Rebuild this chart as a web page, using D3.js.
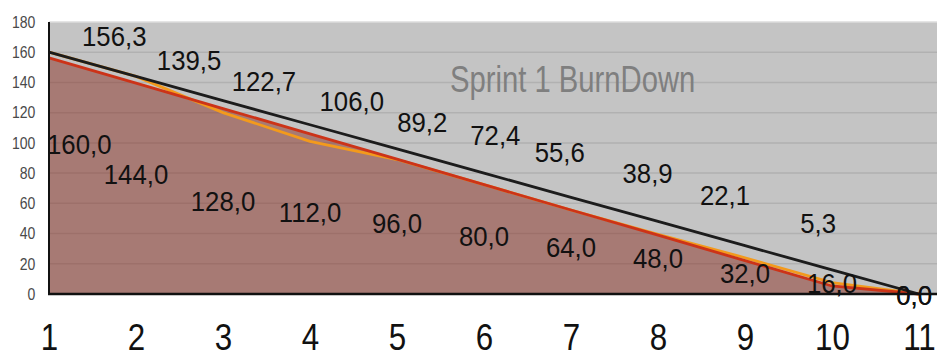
<!DOCTYPE html>
<html>
<head>
<meta charset="utf-8">
<title>Sprint 1 BurnDown</title>
<script src="https://d3js.org/d3.v7.min.js"></script>
<style>
  body { margin: 0; background: #fff; }
  svg { display: block; }
  text { font-family: "Liberation Sans", Arial, sans-serif; }
  .axis .domain { display: none; }
</style>
</head>
<body>
<script>

// ---- data ----
var days = [1, 2, 3, 4, 5, 6, 7, 8, 9, 10, 11];
var ideal = [160, 144, 128, 112, 96, 80, 64, 48, 32, 16, 0];
var remaining = [156.3, 139.5, 122.7, 106.0, 89.2, 72.4, 55.6, 38.9, 22.1, 5.3, 0.0];
var actual = [160, 144, 120, 101, 89, 72.4, 55.6, 39.5, 24, 7.5, 0];
var yTicks = [0, 20, 40, 60, 80, 100, 120, 140, 160, 180];

// where the data labels sit, in chart units (day, hours)
var idealLabelAt = [99, 79, 61, 54, 46.3, 37.7, 30.8, 23.5, 13.6, 6.6, -1.3];
var remainingLabelDay = [1.75, 2.61, 3.47, 4.48, 5.29, 6.13, 6.87, 7.88, 8.77, 9.84, 11];
var remainingLabelAt = [170, 154.2, 140.3, 127, 113.5, 104.6, 93.6, 79.4, 64.9, 46.3, -1.3];

var title = "Sprint 1 BurnDown";

var W = 937, H = 354;
var margin = {top: 22, right: 0, bottom: 60, left: 49};

var svg = d3.select("body").append("svg")
    .attr("width", W)
    .attr("height", H);

var x = d3.scaleLinear()
    .domain([1, 11])
    .range([margin.left, 919]);

var y = d3.scaleLinear()
    .domain([0, 180])
    .range([H - margin.bottom, margin.top]);

var fmt = function(v) { return d3.format(".1f")(v).replace(".", ","); };

// plot background
svg.append("rect")
    .attr("x", margin.left)
    .attr("y", margin.top)
    .attr("width", W - margin.left)
    .attr("height", y(0) - margin.top)
    .attr("fill", "#c4c4c4");

// grid
svg.append("g")
    .selectAll("line")
    .data(yTicks.filter(function(d) { return d > 0 && d < 180; }))
    .enter().append("line")
    .attr("x1", margin.left)
    .attr("x2", W)
    .attr("y1", function(d) { return y(d); })
    .attr("y2", function(d) { return y(d); })
    .attr("stroke", "#b1b1b1")
    .attr("stroke-width", 1.5);

svg.append("line")
    .attr("x1", margin.left).attr("x2", W)
    .attr("y1", y(180)).attr("y2", y(180))
    .attr("stroke", "#dcdcdc")
    .attr("stroke-width", 1.5);

// title
svg.append("text")
    .attr("transform", "translate(450,92) scale(0.79,1)")
    .attr("font-size", 37)
    .attr("fill", "#7f7f7f")
    .text(title);

// area under the remaining line
var area = d3.area()
    .x(function(d, i) { return x(days[i]); })
    .y0(y(0))
    .y1(function(d) { return y(d); });

svg.append("path")
    .datum(remaining)
    .attr("d", area)
    .attr("fill", "rgb(134,34,20)")
    .attr("fill-opacity", 0.45);

var line = d3.line()
    .x(function(d, i) { return x(days[i]); })
    .y(function(d) { return y(d); });

svg.append("path")
    .datum(actual)
    .attr("d", line)
    .attr("fill", "none")
    .attr("stroke", "#f39a1c")
    .attr("stroke-width", 2.8);

svg.append("path")
    .datum(remaining)
    .attr("d", line)
    .attr("fill", "none")
    .attr("stroke", "#cc3318")
    .attr("stroke-width", 2.8);

svg.append("path")
    .datum(ideal)
    .attr("d", line)
    .attr("fill", "none")
    .attr("stroke", "#1c1c1c")
    .attr("stroke-width", 2.8);

// axis lines
svg.append("line")
    .attr("x1", margin.left).attr("x2", margin.left)
    .attr("y1", y(180)).attr("y2", y(0))
    .attr("stroke", "#111").attr("stroke-width", 2);
svg.append("line")
    .attr("x1", margin.left - 1).attr("x2", W)
    .attr("y1", y(0)).attr("y2", y(0))
    .attr("stroke", "#111").attr("stroke-width", 2.5);

// y axis
var yAxis = svg.append("g")
    .attr("class", "axis")
    .attr("transform", "translate(" + margin.left + ",0)")
    .call(d3.axisLeft(y).tickValues(yTicks).tickSize(0).tickPadding(16));
yAxis.selectAll("text")
    .attr("font-family", "'Liberation Sans', Arial, sans-serif")
    .attr("font-size", 16.5)
    .attr("fill", "#4a4a4a")
    .attr("transform", "scale(0.85,1)");

// x axis
var xAxis = svg.append("g")
    .attr("class", "axis")
    .attr("transform", "translate(0," + y(0) + ")")
    .call(d3.axisBottom(x).tickValues(days).tickSize(0).tickFormat(d3.format("d")));
xAxis.selectAll("text")
    .attr("font-family", "'Liberation Sans', Arial, sans-serif")
    .attr("font-size", 36)
    .attr("fill", "#111")
    .attr("y", 0)
    .attr("dy", 0)
    .attr("transform", "translate(0,56) scale(0.87,1)");

// data labels
function labels(vals, lx, ly) {
  var g = svg.append("g");
  vals.forEach(function(v, i) {
    var t = g.append("text")
        .attr("font-size", 28)
        .attr("fill", "#111")
        .attr("text-anchor", "middle")
        .attr("dominant-baseline", "central")
        .text(fmt(v));
    var hw = t.node().getComputedTextLength() * 0.92 / 2;
    var cx = Math.max(x(lx[i]), margin.left - 2 + hw);
    cx = Math.min(cx, W - 5 - hw);
    t.attr("transform", "translate(" + cx + "," + y(ly[i]) + ") scale(0.92,1)");
  });
}

labels(ideal, days, idealLabelAt);
labels(remaining, remainingLabelDay, remainingLabelAt);

</script>
</body>
</html>
